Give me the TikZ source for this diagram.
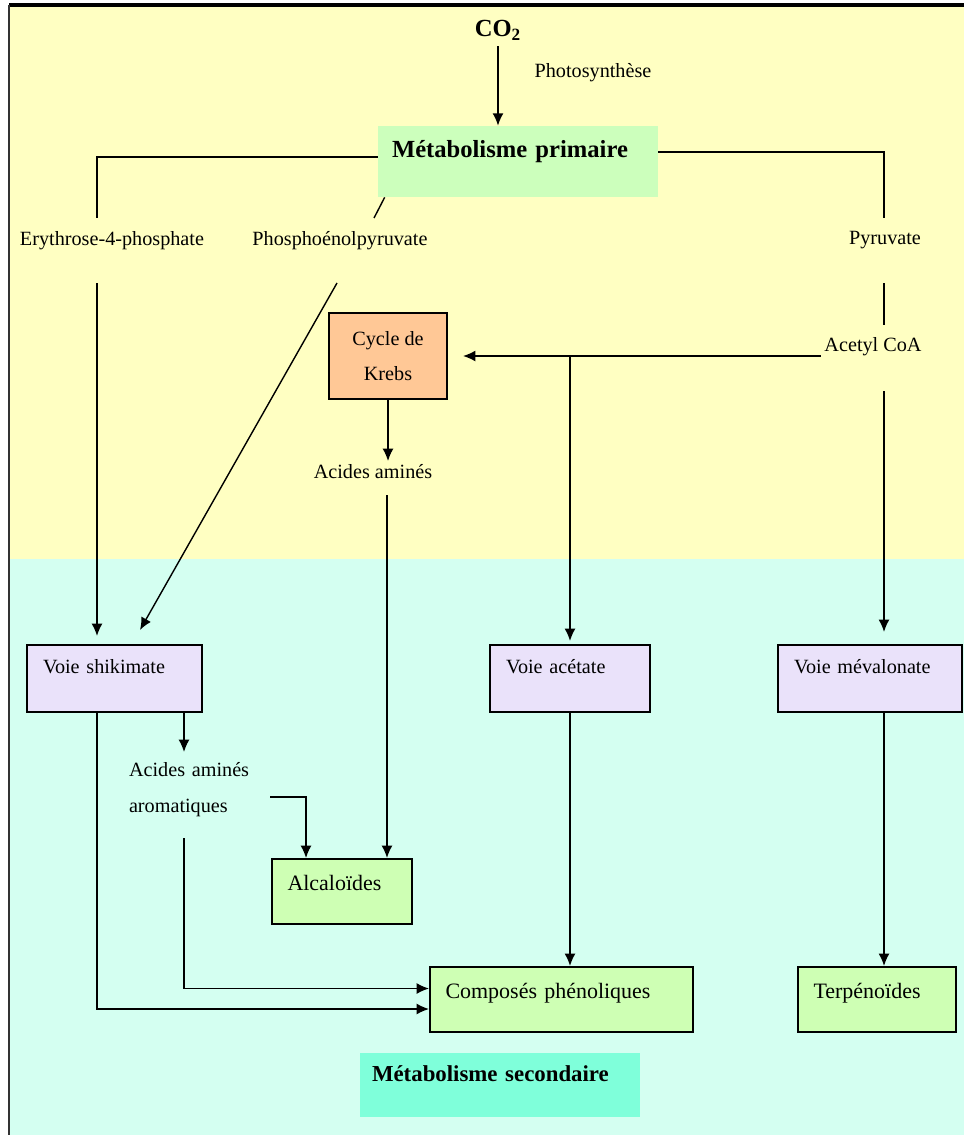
\documentclass[tikz,border=0pt]{standalone}
\usepackage{fontspec}
\setmainfont{Liberation Serif}
\usetikzlibrary{arrows.meta}
\definecolor{bgyellow}{RGB}{255,255,194}
\definecolor{bgcyan}{RGB}{212,255,241}
\definecolor{primgreen}{RGB}{204,255,188}
\definecolor{resgreen}{RGB}{206,255,180}
\definecolor{voielav}{RGB}{234,226,250}
\definecolor{krebsorange}{RGB}{255,200,150}
\definecolor{secaqua}{RGB}{127,255,218}
\begin{document}
\begin{tikzpicture}[x=0.02cm, y=-0.02cm,
  font=\fontsize{11.5pt}{14pt}\selectfont,
  conn/.style={line width=0.8pt},
  arr/.style={conn, -{Latex[length=7pt,width=6.2pt]}},
  lbl/.style={inner sep=2pt},
  topbox/.style={align=left, inner ysep=0pt},
  voie/.style={topbox, draw, line width=1.2pt, fill=voielav,
    inner xsep=0.32cm, text height=0.56cm, text depth=0.78cm},
  result/.style={topbox, draw, line width=1.2pt, fill=resgreen,
    inner xsep=0.31cm, text height=0.62cm, text depth=0.68cm,
    font=\fontsize{12.5pt}{14pt}\selectfont},
  titlebox/.style={topbox, font=\fontsize{14pt}{16pt}\selectfont\bfseries}]
  \useasboundingbox (0,0) rectangle (964,1135);

  % background: primary (top) and secondary (bottom) zones
  \fill[bgyellow] (10,6) rectangle (964,559);
  \fill[bgcyan] (10,559) rectangle (964,1135);
  \draw[line width=1.8pt] (9,5) -- (964,5);
  \draw[line width=1.1pt, black!80] (9,5) -- (9,1135);

  % primary metabolism
  \node (co2) at (498,30) [font=\fontsize{14pt}{16pt}\selectfont\bfseries] {CO\textsubscript{2}};
  \node (photo) at (593,73) [lbl] {Photosynthèse};
  \node (prim) at (518,161.5) [titlebox, fill=primgreen, inner xsep=0.28cm,
    text width=5.04cm, text height=0.64cm, text depth=0.78cm] {Métabolisme primaire};

  \node (ery) at (112,241) [lbl] {Erythrose-4-phosphate};
  \node (pep) at (340,241) [lbl] {Phosphoénolpyruvate};
  \node (pyr) at (885,240) [lbl] {Pyruvate};
  \node (acetyl) at (873,347) [lbl] {Acetyl CoA};
  \node (krebs) at (388,356) [draw, line width=1.2pt, fill=krebsorange, align=center,
    minimum width=2.36cm, minimum height=1.72cm,
    font=\fontsize{11.5pt}{20pt}\selectfont] {Cycle de\\Krebs};
  \node (aa) at (373,472) [lbl] {Acides aminés};

  % secondary pathways
  \node (shik) at (114.5,678.5) [voie, text width=2.86cm] {Voie shikimate};
  \node (acet) at (570,678.5) [voie, text width=2.56cm] {Voie acétate};
  \node (mev) at (870,678.5) [voie, text width=3.04cm] {Voie mévalonate};
  \node (aro) at (192,790) [align=left, inner sep=0pt, text width=2.52cm,
    font=\fontsize{11.5pt}{20.4pt}\selectfont] {\makebox[2.52cm][s]{Acides aminés}\\aromatiques};

  % end products
  \node (alc) at (342,891.5) [result, text width=2.18cm] {Alcaloïdes};
  \node (comp) at (561.5,999.5) [result, text width=4.64cm] {Composés phénoliques};
  \node (terp) at (877,999.5) [result, text width=2.54cm] {Terpénoïdes};
  \node (sec) at (500,1085) [titlebox, fill=secaqua, inner xsep=0.24cm,
    text width=5.12cm, text height=0.56cm, text depth=0.72cm,
    font=\fontsize{13pt}{15pt}\selectfont\bfseries] {Métabolisme secondaire};

  % line ends beside the labels
  \coordinate (e1) at (97,218);   \coordinate (e2) at (97,283);
  \coordinate (p1) at (374,218);  \coordinate (p2) at (337,283);
  \coordinate (p3) at (140,630);
  \coordinate (y1) at (884,218);  \coordinate (y2) at (884,283);
  \coordinate (y3) at (884,325);  \coordinate (y4) at (884,391);
  \coordinate (a1) at (387,495);
  \coordinate (r1) at (270,797);  \coordinate (r2) at (184,838);
  \coordinate (r0) at (184,752);  \coordinate (alcin) at (306,858);

  % connectors
  \draw[arr] (co2.south) -- (co2.south |- prim.north);
  \draw[conn] ([yshift=0.09cm]prim.west) -| (e1);
  \draw[arr, shorten >=0.16cm] (e2) -- (e2 |- shik.north);
  \draw[conn] ([xshift=0.14cm]prim.south west) -- (p1);
  \draw[arr] (p2) -- (p3);
  \draw[conn] ([yshift=0.19cm]prim.east) -| (y1);
  \draw[conn] (y2) -- (y3);
  \draw[arr, shorten >=0.24cm] (y4) -- (y4 |- mev.north);
  \draw[arr, shorten >=0.3cm] (acetyl.west |- krebs.east) -- (krebs.east);
  \draw[arr, shorten >=0.06cm] (acet.north |- krebs.east) -- (acet.north);
  \draw[arr] (krebs.south) -- (krebs.south |- aa.north);
  \draw[arr] (a1) -- (a1 |- alc.north);

  \draw[arr] (r0 |- shik.south) -- (r0);
  \draw[arr] (r1) -| (alcin);
  \draw[arr] (r2) |- ([yshift=0.22cm]comp.west);
  \draw[arr] (e2 |- shik.south) |- ([yshift=-0.19cm]comp.west);
  \draw[arr] (acet.south) -- (acet.south |- comp.north);
  \draw[arr] (y4 |- mev.south) -- (y4 |- terp.north);
\end{tikzpicture}
\end{document}
